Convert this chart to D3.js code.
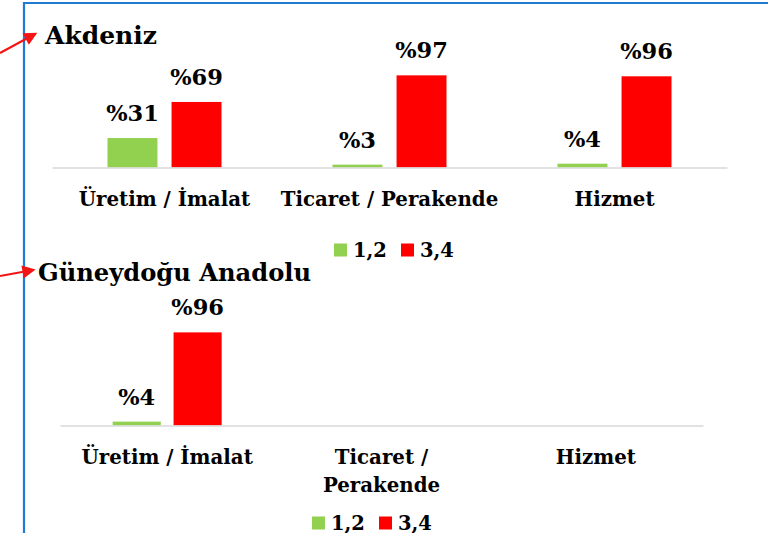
<!DOCTYPE html>
<html>
<head>
<meta charset="utf-8">
<script src="https://cdn.jsdelivr.net/npm/d3@7"></script>
<style>
  body { margin: 0; background: #fff; }
  svg { display: block; }
  text { font-family: "DejaVu Serif", serif; font-weight: bold; fill: #000; }
</style>
</head>
<body>
<svg id="chart" width="768" height="533"></svg>
<script>
// ---- data ----
var categories = ["Üretim / İmalat", "Ticaret / Perakende", "Hizmet"];
var seriesNames = ["1,2", "3,4"];
var seriesColors = ["#92d050", "#ff0000"];

var akdeniz12 = [31, 3, 4];
var akdeniz34 = [69, 97, 96];

var guneydogu12 = [4, null, null];
var guneydogu34 = [96, null, null];

// labels of the 2nd chart wrap on two lines
var wrappedLabels = [["Üretim / İmalat"], ["Ticaret /", "Perakende"], ["Hizmet"]];

var svg = d3.select("#chart");

// blue frame (top and left edges visible)
svg.append("path")
  .attr("d", "M24,533 L24,3 L768,3")
  .attr("fill", "none")
  .attr("stroke", "#1f7bd2")
  .attr("stroke-width", 2.2);

// red arrows pointing to the titles
svg.append("defs").append("marker")
  .attr("id", "head")
  .attr("viewBox", "0 0 10 10")
  .attr("refX", 8).attr("refY", 5)
  .attr("markerWidth", 6.5).attr("markerHeight", 6)
  .attr("orient", "auto")
  .append("path")
  .attr("d", "M0,0 L10,5 L0,10 Z")
  .attr("fill", "#f31414");

function arrow(x1, y1, x2, y2) {
  svg.append("line")
    .attr("x1", x1).attr("y1", y1).attr("x2", x2).attr("y2", y2)
    .attr("stroke", "#f31414")
    .attr("stroke-width", 2.2)
    .attr("marker-end", "url(#head)");
}

//draws one clustered bar panel
function panel(opt) {
  var g = svg.append("g");

  g.append("text")
    .attr("x", opt.titleX).attr("y", opt.titleY)
    .style("font-size", opt.titleSize + "px")
    .text(opt.title);

  var x0 = d3.scaleBand().domain(categories).range([opt.left, opt.right]);
  var y = d3.scaleLinear().domain([0, 100]).range([opt.base, opt.base - opt.h100]);

  var rows = categories.map(function(c, i) {
    return { cat: c, vals: [opt.s12[i], opt.s34[i]] };
  });

  var groups = g.selectAll(".grp").data(rows).enter().append("g")
    .attr("class", "grp");

  groups.each(function(d) {
    var c = x0(d.cat) + x0.bandwidth() / 2;
    var x1 = d3.scaleBand().domain(seriesNames)
      .range([c - opt.groupW / 2, c + opt.groupW / 2])
      .paddingInner(opt.pad);
    var cells = d.vals.map(function(v, k) { return { s: seriesNames[k], v: v, k: k }; })
      .filter(function(e) { return e.v != null; });

    d3.select(this).selectAll("rect").data(cells).enter().append("rect")
      .attr("x", function(e) { return x1(e.s); })
      .attr("y", function(e) { return y(e.v); })
      .attr("width", x1.bandwidth())
      .attr("height", function(e) { return y(0) - y(e.v); })
      .attr("fill", function(e) { return seriesColors[e.k]; });

    d3.select(this).selectAll("text").data(cells).enter().append("text")
      .attr("x", function(e) { return x1(e.s) + x1.bandwidth() / 2; })
      .attr("y", function(e) { return y(e.v) - 17; })
      .attr("text-anchor", "middle")
      .style("font-size", "22.5px")
      .text(function(e) { return "%" + e.v; });
  });

  // category axis
  var axis = g.append("g")
    .attr("transform", "translate(0," + opt.base + ")")
    .call(d3.axisBottom(x0).tickSize(0).tickSizeOuter(0));
  axis.select(".domain").attr("stroke", "#d9d9d9").attr("stroke-width", 1.6);
  axis.selectAll(".tick text")
    .attr("y", opt.labelDy).attr("dy", 0)
    .style("font-size", "19.8px")
    .style("font-family", "DejaVu Serif, serif")
    .style("font-weight", "bold")
    .attr("fill", "#000");
  if (opt.wrap) {
    axis.selectAll(".tick text").each(function(d, i) {
      var t = d3.select(this).text("");
      opt.wrap[i].forEach(function(line, j) {
        t.append("tspan").attr("x", 0).attr("y", opt.labelDy + j * 28.5).text(line);
      });
    });
  }

  // legend
  var lg = g.append("g").attr("transform", "translate(" + opt.legX + "," + opt.legY + ")");
  var offs = [0, 67];
  seriesNames.forEach(function(s, k) {
    lg.append("rect").attr("x", offs[k]).attr("y", -6.5).attr("width", 13).attr("height", 13)
      .attr("fill", seriesColors[k]);
    lg.append("text").attr("x", offs[k] + 19).attr("y", 7)
      .style("font-size", "19.5px")
      .text(s);
  });
}

arrow(0, 53, 35, 34);
arrow(0, 276, 33, 270);

panel({
  title: "Akdeniz", titleX: 45, titleY: 44, titleSize: 25,
  s12: akdeniz12, s34: akdeniz34,
  left: 52, right: 727, base: 167.5, h100: 95,
  groupW: 114, pad: 0.22, labelDy: 38,
  legX: 334, legY: 250
});

panel({
  title: "Güneydoğu Anadolu", titleX: 38, titleY: 281, titleSize: 24.2,
  s12: guneydogu12, s34: guneydogu34,
  left: 60, right: 703, base: 425.5, h100: 97,
  groupW: 109, pad: 0.21, labelDy: 38, wrap: wrappedLabels,
  legX: 312, legY: 523
});
</script>
</body>
</html>
